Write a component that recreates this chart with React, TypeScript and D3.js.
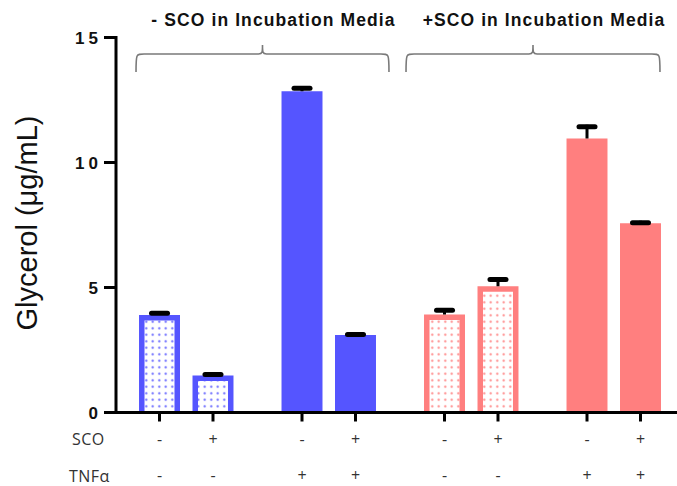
import React from "react";
import * as d3 from "d3";

const groups = ["g1", "g2", "g3", "g4"];
const sco = ["-", "+"];
const values = [[3.9, 1.48], [12.85, 3.1], [3.92, 5.05], [10.96, 7.57]];
const errors = [[0.15, 0.12], [0.2, 0.1], [0.25, 0.35], [0.55, 0.1]];
const scoLabels = [["-", "+"], ["-", "+"], ["-", "+"], ["-", "+"]];
const tnfLabels = [["-", "-"], ["+", "+"], ["-", "-"], ["+", "+"]];
const patterned = [true, false, true, false];
const groupColors = ["#5555FF", "#5555FF", "#FF7F7F", "#FF7F7F"];
const yTicks = [0, 5, 10, 15];
const bracketTitles = ["- SCO in Incubation Media", "+SCO in Incubation Media"];

const W = 677;
const H = 486;

export default function App() {
  const y = d3.scaleLinear().domain([0, 15]).range([412.5, 37.5]);
  const xo = d3.scaleBand<string>().domain(groups).range([115, 685]);
  const xi = d3.scaleBand<string>().domain(sco).range([0, xo.bandwidth()]).paddingInner(0.234).paddingOuter(0.449);
  const bw = xi.bandwidth();
  const axisX = 116;
  const baseY = y(0);

  const bracket = (x0: number, x1: number) => {
    const xm = (x0 + x1) / 2;
    const yb = 72, yh = 54, yp = 45;
    return `M${x0},${yb} C${x0},${yh} ${x0},${yh} ${x0 + 8},${yh} L${xm - 4},${yh} C${xm},${yh} ${xm},${yh - 2} ${xm},${yp} C${xm},${yh - 2} ${xm},${yh} ${xm + 4},${yh} L${x1 - 8},${yh} C${x1},${yh} ${x1},${yh} ${x1},${yb}`;
  };
  const brackets = [
    [xo("g1")! + xi("-")! - 3, xo("g2")! + xi("+")! + bw + 13],
    [xo("g3")! + xi("-")! - 18, xo("g4")! + xi("+")! + bw - 1],
  ];

  return (
    <svg width={W} height={H} style={{ position: "absolute", left: 0, top: 0, background: "#fff" }}>
      <defs>
        {["#6a6aff", "#ff8a8a"].map((c, i) => (
          <pattern key={c} id={`dots${i}`} width={6.5} height={6.5} patternUnits="userSpaceOnUse">
            <rect width={6.5} height={6.5} fill="#fff" />
            <circle cx={3.25} cy={3.25} r={1.1} fill={c} />
          </pattern>
        ))}
      </defs>

      {/* bracket titles */}
      {brackets.map(([a, b], i) => (
        <g key={i}>
          <path d={bracket(a, b)} fill="none" stroke="#7a7a7a" strokeWidth={1.6} />
          <text x={(a + b) / 2 + 11} y={26} textAnchor="middle" fontFamily="Liberation Sans, Arial, sans-serif" fontWeight="bold" fontSize={17.5} letterSpacing={1.1} fill="#111">
            {bracketTitles[i]}
          </text>
        </g>
      ))}

      {/* bars */}
      {groups.map((g, gi) =>
        sco.map((s, si) => {
          const x = xo(g)! + xi(s)!;
          const v = values[gi][si];
          const top = y(v);
          const c = groupColors[gi];
          const cx = x + bw / 2;
          const ey = y(v + errors[gi][si]);
          return (
            <g key={g + s}>
              {patterned[gi] ? (
                <>
                  <rect x={x} y={top} width={bw} height={baseY - top} fill={c} />
                  <rect x={x + 5.5} y={top + 5.5} width={bw - 11} height={baseY - top - 5.5} fill={`url(#dots${gi < 2 ? 0 : 1})`} />
                </>
              ) : (
                <rect x={x} y={top} width={bw} height={baseY - top} fill={c} />
              )}
              <line x1={cx} x2={cx} y1={top} y2={ey} stroke="#000" strokeWidth={3} />
              <line x1={cx - 8} x2={cx + 8} y1={ey + 2} y2={ey + 2} stroke="#000" strokeWidth={5} strokeLinecap="round" />
              <line x1={cx} x2={cx} y1={baseY} y2={baseY + 9} stroke="#000" strokeWidth={3} />
              <text x={cx} y={445} textAnchor="middle" fontFamily="Open Sans, Liberation Sans, sans-serif" fontSize={16} fill="#333">{scoLabels[gi][si]}</text>
              <text x={cx} y={481} textAnchor="middle" fontFamily="Open Sans, Liberation Sans, sans-serif" fontSize={16} fill="#333">{tnfLabels[gi][si]}</text>
            </g>
          );
        })
      )}

      {/* axes */}
      <line x1={axisX} x2={axisX} y1={y(15) - 1.5} y2={baseY + 1.5} stroke="#000" strokeWidth={3} />
      <line x1={axisX - 1.5} x2={W} y1={baseY} y2={baseY} stroke="#000" strokeWidth={3} />
      {yTicks.map((t) => (
        <g key={t}>
          <line x1={104} x2={axisX} y1={y(t)} y2={y(t)} stroke="#000" strokeWidth={3} />
          <text x={102} y={y(t) + 6} textAnchor="end" fontFamily="Liberation Sans, Arial, sans-serif" fontWeight="bold" fontSize={17} letterSpacing={4} fill="#111">{t}</text>
        </g>
      ))}
      <text transform={`translate(37,223) rotate(-90)`} textAnchor="middle" fontFamily="Liberation Sans, Arial, sans-serif" fontSize={29} fill="#111">Glycerol (μg/mL)</text>
      <text x={72} y={445} fontFamily="Open Sans, Liberation Sans, sans-serif" fontSize={16} letterSpacing={0.5} fill="#333">SCO</text>
      <text x={69} y={482} fontFamily="Open Sans, Liberation Sans, sans-serif" fontSize={16} letterSpacing={0.5} fill="#333">TNFα</text>
    </svg>
  );
}
